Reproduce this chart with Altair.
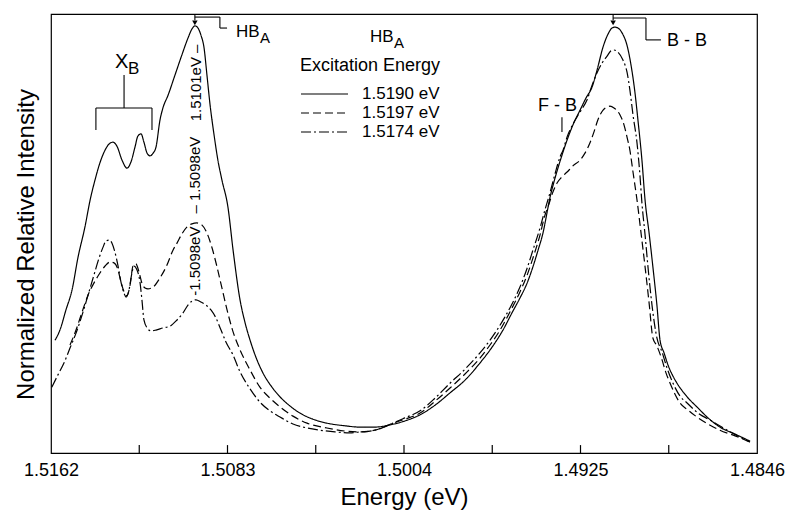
import altair as alt
import pandas as pd

FONT = "Liberation Sans"

# ---------------- data (energy in eV, normalized intensity 0-100) ----------------
series_names = ["1.5190 eV", "1.5197 eV", "1.5174 eV"]

solid_energy = [1.51602, 1.51580, 1.51553, 1.51526, 1.51499, 1.51468, 1.51445, 1.51423, 1.51401, 1.51378,
                1.51360, 1.51343, 1.51325, 1.51302, 1.51280, 1.51262, 1.51244, 1.51231, 1.51217, 1.51204,
                1.51190, 1.51177, 1.51163, 1.51150, 1.51132, 1.51119, 1.51096, 1.51065, 1.51034, 1.51007,
                1.50989, 1.50976, 1.50962, 1.50949, 1.50935, 1.50922, 1.50908, 1.50890, 1.50873, 1.50855,
                1.50828, 1.50805, 1.50774, 1.50752, 1.50729, 1.50698, 1.50671, 1.50631, 1.50595, 1.50550,
                1.50506, 1.50447, 1.50385, 1.50304, 1.50237, 1.50170, 1.50103, 1.50036, 1.49968, 1.49901,
                1.49834, 1.49767, 1.49700, 1.49646, 1.49597, 1.49557, 1.49521, 1.49489, 1.49463, 1.49440,
                1.49418, 1.49400, 1.49387, 1.49369, 1.49351, 1.49328, 1.49310, 1.49284, 1.49252, 1.49225,
                1.49198, 1.49176, 1.49149, 1.49127, 1.49109, 1.49096, 1.49082, 1.49064, 1.49042, 1.49024,
                1.49006, 1.48993, 1.48975, 1.48961, 1.48943, 1.48926, 1.48908, 1.48894, 1.48876, 1.48858,
                1.48836, 1.48818, 1.48773, 1.48729, 1.48679, 1.48626, 1.48558, 1.48491]
solid_intensity = [25.7, 28.0, 32.6, 37.1, 44.6, 51.5, 57.6, 62.2, 66.1, 69.0,
                   70.4, 70.8, 69.9, 66.7, 64.9, 66.3, 69.7, 72.2, 72.7, 70.8,
                   68.3, 67.7, 68.3, 69.7, 75.9, 78.6, 81.5, 86.1, 90.7, 94.5,
                   96.6, 97.3, 96.8, 95.2, 92.3, 86.1, 79.3, 72.4, 66.7, 62.2,
                   56.0, 46.2, 34.9, 29.8, 25.7, 21.2, 18.2, 15.0, 12.8, 10.7,
                   9.1, 7.7, 6.8, 6.2, 5.9, 5.9, 6.4, 7.3, 8.7, 10.9,
                   13.7, 16.6, 20.5, 24.1, 28.0, 31.9, 35.3, 38.7, 42.4, 46.2,
                   50.1, 54.7, 58.1, 61.7, 64.9, 68.6, 71.3, 74.7, 78.1, 80.9,
                   83.4, 87.2, 92.5, 95.4, 96.8, 97.0, 96.8, 95.7, 92.9, 88.4,
                   82.0, 75.9, 66.7, 57.6, 50.1, 42.4, 33.7, 25.7, 22.8, 20.0,
                   17.5, 15.9, 12.8, 10.5, 8.0, 5.9, 4.3, 2.7]

dashed_energy = [1.51535, 1.51508, 1.51481, 1.51454, 1.51428, 1.51401, 1.51378, 1.51356, 1.51338, 1.51320,
                 1.51307, 1.51293, 1.51280, 1.51266, 1.51253, 1.51240, 1.51226, 1.51213, 1.51199, 1.51186,
                 1.51163, 1.51132, 1.51101, 1.51074, 1.51056, 1.51034, 1.51011, 1.50989, 1.50967, 1.50944,
                 1.50922, 1.50899, 1.50877, 1.50855, 1.50832, 1.50805, 1.50774, 1.50729, 1.50685, 1.50640,
                 1.50595, 1.50537, 1.50474, 1.50385, 1.50304, 1.50237, 1.50170, 1.50089, 1.50036, 1.49968,
                 1.49901, 1.49834, 1.49767, 1.49700, 1.49655, 1.49610, 1.49566, 1.49521, 1.49489, 1.49463,
                 1.49431, 1.49409, 1.49396, 1.49373, 1.49355, 1.49333, 1.49310, 1.49284, 1.49252, 1.49230,
                 1.49208, 1.49190, 1.49172, 1.49149, 1.49131, 1.49118, 1.49100, 1.49073, 1.49055, 1.49042,
                 1.49029, 1.49015, 1.48997, 1.48979, 1.48961, 1.48943, 1.48926, 1.48908, 1.48885, 1.48867,
                 1.48849, 1.48827, 1.48805, 1.48769, 1.48729, 1.48679, 1.48626, 1.48558, 1.48491]
dashed_intensity = [24.6, 28.0, 32.1, 36.0, 38.7, 41.0, 42.6, 43.5, 43.3, 41.7,
                    39.0, 36.7, 35.8, 38.3, 42.6, 43.1, 41.2, 38.7, 37.6, 37.4,
                    37.8, 39.9, 42.8, 46.2, 47.8, 49.9, 51.5, 52.2, 52.4, 51.9,
                    50.1, 46.7, 42.4, 37.6, 32.6, 27.6, 23.5, 18.9, 15.0, 12.5,
                    10.5, 8.4, 6.8, 5.7, 5.0, 4.8, 5.2, 6.8, 7.7, 9.1,
                    11.8, 14.8, 18.0, 21.6, 24.6, 28.0, 32.1, 36.7, 40.5, 44.4,
                    49.7, 54.2, 56.0, 59.5, 61.5, 62.9, 64.0, 65.4, 66.7, 68.3,
                    70.6, 73.1, 75.9, 78.1, 78.8, 79.0, 78.6, 77.0, 74.7, 72.0,
                    69.0, 64.0, 57.6, 50.1, 42.4, 34.2, 26.2, 24.4, 21.2, 18.2,
                    15.9, 13.4, 11.4, 9.8, 8.2, 6.6, 5.2, 3.9, 2.5]

dashdot_energy = [1.51616, 1.51589, 1.51562, 1.51535, 1.51508, 1.51481, 1.51454, 1.51428, 1.51405, 1.51387,
                  1.51374, 1.51360, 1.51347, 1.51334, 1.51320, 1.51307, 1.51293, 1.51284, 1.51271, 1.51257,
                  1.51249, 1.51235, 1.51222, 1.51213, 1.51204, 1.51190, 1.51172, 1.51150, 1.51119, 1.51087,
                  1.51056, 1.51029, 1.51007, 1.50989, 1.50971, 1.50949, 1.50926, 1.50904, 1.50882, 1.50859,
                  1.50837, 1.50805, 1.50774, 1.50729, 1.50685, 1.50640, 1.50595, 1.50537, 1.50474, 1.50416,
                  1.50349, 1.50282, 1.50237, 1.50170, 1.50089, 1.50036, 1.49968, 1.49901, 1.49834, 1.49767,
                  1.49700, 1.49655, 1.49624, 1.49588, 1.49552, 1.49521, 1.49489, 1.49463, 1.49431, 1.49409,
                  1.49387, 1.49364, 1.49342, 1.49328, 1.49310, 1.49284, 1.49252, 1.49221, 1.49198, 1.49176,
                  1.49154, 1.49131, 1.49114, 1.49100, 1.49082, 1.49060, 1.49042, 1.49029, 1.49015, 1.48997,
                  1.48984, 1.48975, 1.48961, 1.48948, 1.48930, 1.48908, 1.48885, 1.48863, 1.48836, 1.48805,
                  1.48773, 1.48724, 1.48670, 1.48603, 1.48536, 1.48491]
dashdot_intensity = [15.0, 17.8, 20.5, 23.9, 27.3, 31.4, 36.0, 40.5, 44.4, 46.9,
                     48.3, 48.5, 47.8, 45.8, 42.6, 39.0, 36.4, 35.5, 37.1, 41.2,
                     42.6, 41.7, 39.0, 34.9, 30.3, 28.5, 27.8, 28.0, 28.5, 28.9,
                     30.3, 31.9, 33.7, 34.6, 34.9, 34.4, 33.7, 32.6, 30.8, 28.0,
                     25.3, 22.3, 18.5, 14.6, 11.6, 9.6, 8.2, 6.6, 5.7, 5.2,
                     4.8, 4.6, 4.8, 5.2, 6.8, 8.0, 9.6, 12.5, 15.9, 19.1,
                     22.8, 25.7, 28.0, 31.0, 34.4, 37.8, 42.1, 46.2, 51.3, 55.4,
                     59.2, 63.6, 67.4, 69.0, 72.0, 74.9, 77.7, 80.4, 83.8, 86.6,
                     88.8, 90.4, 91.6, 91.8, 91.3, 89.5, 86.8, 82.7, 77.0, 70.6,
                     63.3, 56.9, 49.7, 42.4, 33.7, 26.2, 23.0, 19.4, 15.9, 13.0,
                     11.4, 9.1, 7.5, 5.5, 3.6, 2.5]

x_tick_labels = [1.5162, 1.5083, 1.5004, 1.4925, 1.4846]
x_inner_ticks = [1.51225, 1.5083, 1.50435, 1.5004, 1.49645, 1.4925, 1.48855]

# ---------------- tables ----------------
curves = pd.concat([
    pd.DataFrame({"energy": solid_energy, "intensity": solid_intensity, "series": series_names[0]}),
    pd.DataFrame({"energy": dashed_energy, "intensity": dashed_intensity, "series": series_names[1]}),
    pd.DataFrame({"energy": dashdot_energy, "intensity": dashdot_intensity, "series": series_names[2]}),
], ignore_index=True)

xscale = alt.Scale(domain=[1.4846, 1.5162], reverse=True, nice=False, zero=False)
yscale = alt.Scale(domain=[0, 100], nice=False, zero=False)

X_AXIS = alt.Axis(values=x_tick_labels, format=".4f", labelFlush=False, ticks=False,
                  domain=False, grid=False, labelFontSize=18, labelFont=FONT,
                  labelColor="black", labelPadding=8, title="Energy (eV)",
                  titleFontSize=24, titleFont=FONT, titleFontWeight="normal",
                  titleColor="black", titlePadding=6)
Y_AXIS = alt.Axis(labels=False, ticks=False, domain=False, grid=False,
                  title="Normalized Relative Intensity", titleFontSize=24, titleFont=FONT,
                  titleFontWeight="normal", titleColor="black", titlePadding=13, titleY=230)


def xenc(field):
    return alt.X(field, type="quantitative", scale=xscale, axis=X_AXIS, title="Energy (eV)")


def yenc(field):
    return alt.Y(field, type="quantitative", scale=yscale, axis=Y_AXIS, title="Normalized Relative Intensity")


lines = alt.Chart(curves).mark_line(color="black", strokeWidth=1.2, interpolate="monotone").encode(
    x=xenc("energy"),
    y=yenc("intensity"),
    strokeDash=alt.StrokeDash("series:N",
                              scale=alt.Scale(domain=series_names, range=[[1, 0], [8, 4], [10, 3, 2, 3]]),
                              legend=alt.Legend(title="Excitation Energy", orient="none", legendX=249,
                                                legendY=43, symbolType="stroke", symbolSize=2209,
                                                symbolStrokeWidth=1.2, symbolStrokeColor="black",
                                                labelFontSize=17, titleFontSize=18, titleFontWeight="normal",
                                                labelFont=FONT, titleFont=FONT, labelColor="black",
                                                titleColor="black", labelOffset=13, rowPadding=1,
                                                clipHeight=15, titlePadding=11.5, padding=0)),
    detail="series:N",
)

ticks_df = pd.DataFrame({"energy": x_inner_ticks, "lo": 0.0, "hi": 1.8})
ticks = alt.Chart(ticks_df).mark_rule(color="black", strokeWidth=1.2).encode(
    x=xenc("energy"),
    y=yenc("lo"),
    y2="hi:Q",
)

# bracket / pointer segments
seg_x = [1.50976, 1.50976, 1.50864, 1.50864,
         1.49104, 1.49104, 1.48957, 1.48957,
         1.49333,
         1.51293, 1.51419, 1.51419, 1.51168]
seg_x2 = [1.50976, 1.50864, 1.50864, 1.50832,
          1.49104, 1.48957, 1.48957, 1.48890,
          1.49333,
          1.51293, 1.51168, 1.51419, 1.51168]
seg_y = [100.0, 99.3, 99.3, 96.8,
         100.0, 99.1, 99.1, 94.1,
         76.5,
         86.1, 78.6, 78.6, 78.6]
seg_y2 = [98.6, 99.3, 96.8, 96.8,
          98.6, 99.1, 94.1, 94.1,
          73.1,
          78.6, 78.6, 73.6, 73.6]
segs = alt.Chart(pd.DataFrame({"x": seg_x, "x2": seg_x2, "y": seg_y, "y2": seg_y2})).mark_rule(
    color="black", strokeWidth=1.1).encode(
    x=xenc("x"), x2="x2:Q",
    y=yenc("y"), y2="y2:Q",
)

arrows = alt.Chart(pd.DataFrame({"x": [1.50976, 1.49104], "y": [98.0, 98.0]})).mark_point(
    shape="triangle-down", filled=True, color="black", size=30, opacity=1).encode(
    x=xenc("x"),
    y=yenc("y"),
)


def text_layer(xs, ys, texts, size, align="left", angle=0):
    df = pd.DataFrame({"x": xs, "y": ys, "t": texts})
    return alt.Chart(df).mark_text(font=FONT, fontSize=size, align=align, baseline="middle",
                                   angle=angle, color="black").encode(
        x=xenc("x"),
        y=yenc("y"),
        text="t:N",
    )


hb_text = text_layer([1.50792, 1.50192], [96.0, 94.8], ["HB", "HB"], 17)
hb_sub = text_layer([1.50685, 1.50085], [94.6, 93.4], ["A", "A"], 15)
bb_text = text_layer([1.48863], [93.8], ["B - B"], 18)
fb_text = text_layer([1.49353], [79.0], ["F - B"], 18, align="center")
x_text = text_layer([1.51333], [89.0], ["X"], 20)
x_sub = text_layer([1.51275], [87.5], ["B"], 17)
rot_text = text_layer([1.50971, 1.50976, 1.50976], [84.3, 63.3, 43.7],
                      ["1.5101eV \u2013", "\u2013 1.5098eV", "-1.5098eV"], 15, align="center", angle=270)

chart = alt.layer(lines, ticks, segs, arrows, hb_text, hb_sub, bb_text, fb_text, x_text, x_sub, rot_text).properties(
    width=706, height=439,
    padding={"left": 51, "top": 14, "right": 29, "bottom": 57},
    autosize=alt.AutoSizeParams(type="none"),
    background="white",
).configure_view(stroke="black", strokeWidth=1.2)

chart.save("out.html", embed_options={"renderer": "svg", "actions": False})
